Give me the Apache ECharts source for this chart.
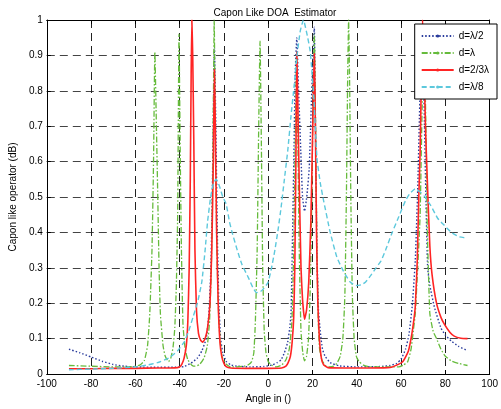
<!DOCTYPE html>
<html>
<head>
<meta charset="utf-8">
<script src="https://cdn.jsdelivr.net/npm/echarts@6/dist/echarts.min.js"></script>
<style>html,body{margin:0;padding:0;background:#fff}#c{width:501px;height:409px}</style>
</head>
<body>
<div id="c"></div>
<script>
var titleText = 'Capon Like DOA  Estimator';
var xName = 'Angle in ()';
var yName = 'Capon like operator (dB)';
var legendNames = ['d=\u03bb/2', 'd=\u03bb', 'd=2/3\u03bb', 'd=\u03bb/8'];

var dHalf = [[-90,0.07],[-85,0.06],[-80,0.048],[-75,0.036],[-70,0.027],[-65,0.022],[-60,0.02],[-50,0.019],[-42,0.019],[-38,0.021],[-35,0.03],[-32,0.045],[-30,0.065],[-28,0.1],[-26.8,0.17],[-26,0.28],[-25.4,0.45],[-24.8,0.72],[-24.3,0.92],[-23.7,0.72],[-23,0.4],[-22.3,0.2],[-21.5,0.1],[-20.5,0.06],[-19,0.036],[-17,0.026],[-14,0.022],[-8,0.02],[-2,0.021],[2,0.026],[4,0.032],[5.8,0.04],[7.3,0.06],[8.8,0.09],[9.7,0.13],[10.3,0.17],[11,0.4],[11.6,0.62],[12.2,0.85],[12.9,0.95],[13.6,0.82],[14.7,0.63],[15.5,0.5],[16.4,0.46],[17.4,0.5],[18.5,0.58],[19.4,0.75],[20,0.86],[20.8,0.98],[21.3,0.72],[22,0.35],[22.7,0.18],[23.5,0.12],[24.5,0.07],[25.7,0.05],[28,0.032],[32,0.023],[40,0.02],[50,0.021],[55,0.024],[58,0.03],[60,0.042],[62,0.07],[63.5,0.11],[65,0.19],[66.4,0.32],[67.5,0.52],[68.5,0.78],[69.4,0.95],[70.3,0.78],[71.2,0.5],[72,0.3],[73,0.25],[75,0.19],[78,0.13],[80,0.11],[82.7,0.093],[86,0.078],[90,0.066]];

var dOne = [[-90,0.024],[-80,0.022],[-70,0.02],[-62,0.02],[-58,0.025],[-56,0.037],[-54.5,0.08],[-53.5,0.17],[-52.5,0.35],[-51.8,0.6],[-51.2,0.91],[-50.5,0.7],[-50,0.54],[-49.3,0.3],[-48.7,0.17],[-47.5,0.08],[-46.5,0.05],[-45,0.035],[-44,0.045],[-43,0.075],[-42.2,0.13],[-41.5,0.25],[-40.9,0.45],[-40.3,0.96],[-39.7,0.6],[-39.2,0.35],[-38.5,0.14],[-37.5,0.07],[-36.3,0.04],[-34.5,0.025],[-33,0.022],[-31,0.027],[-29,0.045],[-27.5,0.08],[-26.5,0.15],[-25.7,0.3],[-25,0.6],[-24.4,1.0],[-23.8,0.6],[-23,0.3],[-22.3,0.15],[-21.5,0.08],[-20.8,0.048],[-19,0.028],[-17,0.02],[-14,0.02],[-11,0.022],[-9,0.026],[-7.5,0.035],[-6.5,0.06],[-5.8,0.15],[-5,0.35],[-4.3,0.7],[-3.7,0.94],[-3.1,0.65],[-2.5,0.3],[-1.8,0.12],[-1,0.06],[0,0.035],[1.5,0.025],[3.5,0.02],[6,0.025],[8,0.04],[9.5,0.07],[10.7,0.15],[11.5,0.35],[12.2,0.65],[12.8,0.9],[13.4,0.65],[14,0.35],[14.8,0.12],[15.6,0.06],[16.4,0.037],[17.3,0.05],[18.2,0.1],[19,0.25],[19.7,0.5],[20.3,0.8],[20.8,0.96],[21.4,0.7],[22,0.35],[22.6,0.15],[23.2,0.07],[24.2,0.04],[25.7,0.025],[27.5,0.02],[29.5,0.022],[31,0.03],[32.5,0.05],[33.7,0.1],[34.6,0.22],[35.3,0.5],[35.9,0.85],[36.3,1.0],[36.8,0.8],[37.3,0.5],[38,0.22],[38.8,0.1],[39.8,0.05],[41,0.035],[43,0.025],[46,0.02],[56,0.02],[59,0.02],[61,0.025],[63,0.035],[64.5,0.07],[65.5,0.12],[66.4,0.17],[67.5,0.3],[68.6,0.45],[69.5,0.75],[70.5,0.9],[71.2,0.7],[71.7,0.45],[72.3,0.3],[73,0.17],[74.5,0.12],[76,0.1],[78,0.07],[80,0.05],[82.7,0.037],[86,0.03],[90,0.024]];

var dTwoThird = [[-90,0.015],[-80,0.015],[-70,0.016],[-60,0.016],[-50,0.017],[-44,0.017],[-41,0.018],[-40,0.02],[-39,0.028],[-38,0.045],[-37,0.08],[-36.3,0.15],[-35.7,0.3],[-35.2,0.55],[-34.8,0.85],[-34.5,1.0],[-34.1,0.9],[-33.6,0.65],[-33.1,0.35],[-32.4,0.18],[-31.5,0.115],[-30.5,0.095],[-29.6,0.09],[-28.5,0.1],[-27.4,0.13],[-26.3,0.2],[-25.5,0.35],[-24.8,0.6],[-24.3,0.86],[-23.9,0.7],[-23.3,0.4],[-22.6,0.2],[-21.8,0.09],[-21,0.05],[-20,0.03],[-19,0.021],[-17,0.017],[-10,0.016],[0,0.016],[6,0.017],[8,0.022],[9,0.032],[10,0.05],[10.8,0.09],[11.5,0.16],[12,0.3],[12.5,0.6],[12.9,0.91],[13.4,0.75],[14,0.54],[14.8,0.3],[15.5,0.21],[16.4,0.155],[17.3,0.18],[18.3,0.26],[19.2,0.42],[19.9,0.63],[20.4,0.8],[20.8,0.905],[21.3,0.7],[21.8,0.4],[22.4,0.2],[23.1,0.1],[24,0.045],[25,0.026],[27,0.018],[35,0.017],[45,0.017],[54,0.018],[56,0.02],[58,0.025],[60.6,0.034],[62,0.048],[63.3,0.065],[64.5,0.1],[65.5,0.14],[66.4,0.19],[67.3,0.32],[68,0.5],[68.6,0.63],[69.2,0.85],[69.7,1.0],[70.3,0.9],[71,0.7],[72,0.52],[73,0.36],[74,0.28],[76,0.2],[78,0.16],[79.6,0.14],[82,0.118],[84,0.107],[87,0.101],[90,0.1]];

var dEighth = [[-90,0.012],[-80,0.014],[-70,0.016],[-60,0.02],[-55,0.025],[-50,0.032],[-45,0.045],[-41,0.065],[-38,0.09],[-36,0.12],[-34,0.16],[-32,0.2],[-30,0.26],[-28.5,0.35],[-27.4,0.43],[-26,0.5],[-24.7,0.54],[-23.5,0.55],[-22,0.53],[-20.5,0.5],[-19,0.48],[-17.5,0.43],[-16.3,0.4],[-14,0.35],[-11.9,0.31],[-8.8,0.27],[-7,0.245],[-5.3,0.23],[-3,0.235],[-1,0.25],[0,0.26],[1.5,0.3],[3,0.35],[4.5,0.41],[5.8,0.47],[7.3,0.55],[8.8,0.63],[10.3,0.73],[11.8,0.82],[13,0.9],[14.5,0.97],[15.9,1.0],[17.5,0.96],[19,0.91],[20.7,0.77],[22,0.61],[23.5,0.54],[25,0.49],[28,0.4],[31,0.33],[34,0.29],[37,0.26],[39.8,0.25],[42,0.252],[44,0.26],[46.5,0.28],[48.7,0.3],[51,0.32],[53,0.35],[56,0.4],[59,0.445],[62,0.49],[64,0.51],[66.4,0.523],[68.5,0.515],[70.8,0.5],[73.5,0.475],[76.5,0.44],[79.5,0.42],[82.7,0.4],[86,0.388],[88.5,0.385],[90,0.384]];

var xTicks = {min: -100, max: 100, interval: 20};
var yTicks = {min: 0, max: 1, interval: 0.1};

var FONT = 'Liberation Sans, Arial, sans-serif';
var chart = echarts.init(document.getElementById('c'));

function baseX(pos, showLabel, showGrid) {
  return {
    type: 'value', position: pos, min: xTicks.min, max: xTicks.max, interval: xTicks.interval,
    axisLine: {show: true, onZero: false, lineStyle: {color: '#000', width: 1}},
    axisTick: {show: true, inside: true, length: 4, lineStyle: {color: '#000'}},
    axisLabel: {show: showLabel, color: '#000', fontSize: 10, fontFamily: FONT, margin: 5},
    splitLine: {show: showGrid, lineStyle: {color: '#222', width: 1, type: [8, 5]}}
  };
}
function baseY(pos, showLabel, showGrid) {
  return {
    type: 'value', position: pos, min: yTicks.min, max: yTicks.max, interval: yTicks.interval,
    axisLine: {show: true, onZero: false, lineStyle: {color: '#000', width: 1}},
    axisTick: {show: true, inside: true, length: 4, lineStyle: {color: '#000'}},
    axisLabel: {show: showLabel, color: '#000', fontSize: 10, fontFamily: FONT, margin: 4,
      formatter: function (v) { return String(Math.round(v * 10) / 10); }},
    splitLine: {show: showGrid, lineStyle: {color: '#444', width: 1, type: [8, 5]}}
  };
}

var x0 = baseX('bottom', true, true);
x0.name = xName; x0.nameLocation = 'middle'; x0.nameGap = 20;
x0.nameTextStyle = {color: '#000', fontSize: 10, fontFamily: FONT};
var y0 = baseY('left', true, true);
y0.name = yName; y0.nameLocation = 'middle'; y0.nameGap = 26; y0.nameRotate = 90;
y0.nameTextStyle = {color: '#000', fontSize: 10, fontFamily: FONT};

var styles = [
  {color: '#2a3c9c', width: 1.4, type: [1.5, 2]},
  {color: '#66bb3c', width: 1.3, type: [6, 2, 1.5, 2]},
  {color: '#ff2424', width: 1.6, type: 'solid'},
  {color: '#5cc8dc', width: 1.4, type: [5, 3]}
];
var datas = [dHalf, dOne, dTwoThird, dEighth];

var series = datas.map(function (d, i) {
  return {
    name: legendNames[i], type: 'line', data: d, xAxisIndex: 0, yAxisIndex: 0,
    showSymbol: false, symbol: 'circle', symbolSize: 3, smooth: 0.15,
    itemStyle: {color: styles[i].color},
    lineStyle: {color: styles[i].color, width: styles[i].width, type: styles[i].type},
    animation: false, silent: true
  };
});

chart.setOption({
  animation: false,
  backgroundColor: '#fff',
  title: {text: titleText, left: 270, textAlign: 'center', top: 3,
    textStyle: {color: '#000', fontSize: 10, fontWeight: 'normal', fontFamily: FONT}},
  grid: {left: 44, right: 5, top: 20, bottom: 29, containLabel: false},
  legend: {
    data: legendNames, orient: 'vertical', right: 4, top: 24,
    backgroundColor: '#fff', borderColor: '#000', borderWidth: 1, borderRadius: 0,
    padding: [7, 8, 7, 6], itemGap: 7, itemWidth: 32, itemHeight: 4,
    textStyle: {color: '#000', fontSize: 10, fontFamily: FONT}
  },
  xAxis: [x0, baseX('top', false, false)],
  yAxis: [y0, baseY('right', false, false)],
  series: series
});
</script>
</body>
</html>
